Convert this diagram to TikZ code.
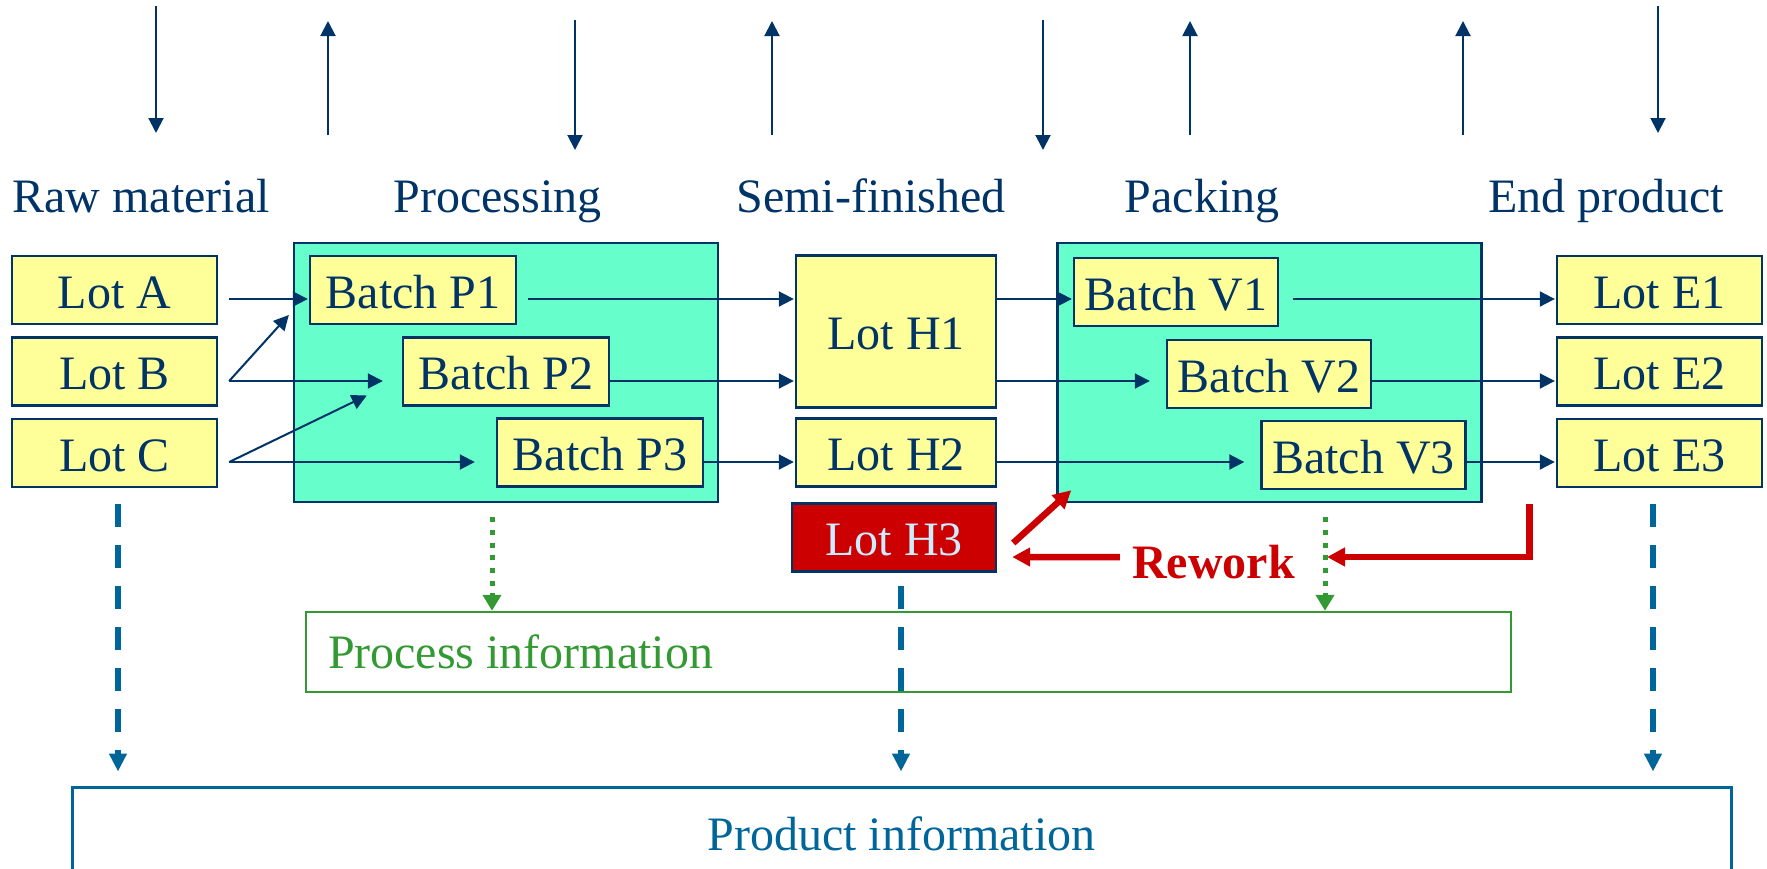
\documentclass[tikz,border=0pt]{standalone}
\usepackage{fontspec}
\setmainfont{Liberation Serif}
\usetikzlibrary{arrows.meta,calc}
\definecolor{navy}{HTML}{003366}
\definecolor{lotyellow}{HTML}{FFFF99}
\definecolor{groupcyan}{HTML}{66FFCC}
\definecolor{rwred}{HTML}{CC0000}
\definecolor{hthreetext}{HTML}{CCECFF}
\definecolor{procgreen}{HTML}{339933}
\definecolor{infoblue}{HTML}{006699}
\begin{document}
\begin{tikzpicture}[x=0.5pt,y=-0.5pt,
  font=\fontsize{24}{28}\selectfont,
  lotbox/.style={draw=navy, fill=lotyellow, line width=1.2pt, text=navy, inner sep=0pt, text height=18pt, text depth=0pt, minimum width=102.5pt, minimum height=34pt},
  groupbox/.style={draw=navy, fill=groupcyan, line width=1.2pt, inner sep=0pt, minimum width=212pt, minimum height=129.5pt},
  lbl/.style={text=navy, anchor=base, inner sep=0pt},
  flow/.style={draw=navy, line width=1pt, -{Triangle[length=7.5pt,width=7.5pt]}},
  rwarrow/.style={draw=rwred, line width=3.25pt, -{Triangle[length=9pt,width=9pt]}},
  infoarr/.style={draw=infoblue, line width=3pt, dash pattern=on 11.5pt off 9pt, -{Triangle[length=9pt,width=8.5pt]}},
  procarr/.style={draw=procgreen, line width=2.5pt, dash pattern=on 2.5pt off 3.85pt, -{Triangle[length=8pt,width=9pt]}}
]
\useasboundingbox (0,0) rectangle (1767,868);
\clip (0,0) rectangle (1767,868);

% column labels
\node[lbl] (lraw)  at (141,212)  {Raw material};
\node[lbl] (lproc) at (497.5,212) {Processing};
\node[lbl] (lsemi) at (871,212)  {Semi-finished};
\node[lbl] (lpack) at (1202,212) {Packing};
\node[lbl] (lend)  at (1606,212) {End product};

% top arrows
\coordinate (t1a) at (156,6);    \coordinate (t1b) at (156,133);
\coordinate (t2a) at (328,135);  \coordinate (t2b) at (328,21);
\coordinate (t3a) at (575,20);   \coordinate (t3b) at (575,150);
\coordinate (t4a) at (772,135);  \coordinate (t4b) at (772,21);
\coordinate (t5a) at (1043,20);  \coordinate (t5b) at (1043,150);
\coordinate (t6a) at (1190,135); \coordinate (t6b) at (1190,21);
\coordinate (t7a) at (1463,135); \coordinate (t7b) at (1463,21);
\coordinate (t8a) at (1658,6);   \coordinate (t8b) at (1658,133);
\foreach \i in {1,...,8} {\draw[flow] (t\i a) -- (t\i b);}

% group boxes
\node[groupbox] (procbox) at (506,372.5) {};
\node[groupbox] (packbox) at (1269.5,372.5) {};

% lots and batches
\node[lotbox] (lotA) at (114.5,290) {Lot A};
\node[lotbox] (lotB) at (114.5,371.5) {Lot B};
\node[lotbox] (lotC) at (114.5,453) {Lot C};
\node[lotbox, minimum width=103pt] (P1) at (413,290) {Batch P1};
\node[lotbox, minimum width=103pt] (P2) at (506,371.5) {Batch P2};
\node[lotbox, minimum width=103pt] (P3) at (600,452.5) {Batch P3};
\node[lotbox, minimum width=100pt, minimum height=76pt] (H1) at (896,331.5) {Lot H1};
\node[lotbox, minimum width=100pt] (H2) at (896,452.5) {Lot H2};
\node[lotbox, fill=rwred, text=hthreetext, minimum width=102pt] (H3) at (894,537.5) {Lot H3};
\node[lotbox, minimum width=102pt] (V1) at (1176,292) {Batch V1};
\node[lotbox, minimum width=102pt] (V2) at (1269,374) {Batch V2};
\node[lotbox, minimum width=102pt] (V3) at (1363.5,455) {Batch V3};
\node[lotbox] (E1) at (1659.5,290) {Lot E1};
\node[lotbox] (E2) at (1659.5,371.5) {Lot E2};
\node[lotbox] (E3) at (1659.5,453) {Lot E3};

% flow arrows
\draw[flow] ($(lotA.east)+(11,9)$) -- ($(P1.west)+(-1,9)$);
\draw[flow] ($(lotB.east)+(11,9.5)$) -- ($(P1.west)+(-20,25)$);
\draw[flow] ($(lotB.east)+(11,9.5)$) -- ($(P2.west)+(-19,9.5)$);
\draw[flow] ($(lotC.east)+(11,9)$) -- ($(P2.west)+(-35,24)$);
\draw[flow] ($(lotC.east)+(11,9)$) -- ($(P3.west)+(-21,9.5)$);
\draw[flow] ($(P1.east)+(11,9)$) -- ($(H1.west)+(-1,-32.5)$);
\draw[flow] ($(P2.east)+(0,9.5)$) -- ($(H1.west)+(-1,49.5)$);
\draw[flow] ($(P3.east)+(0,9.5)$) -- ($(H2.west)+(-1,9.5)$);
\draw[flow] ($(H1.east)+(0,-32.5)$) -- ($(V1.west)+(-1,7)$);
\draw[flow] ($(H1.east)+(0,49.5)$) -- ($(V2.west)+(-16,7)$);
\draw[flow] ($(H2.east)+(0,9.5)$) -- ($(V3.west)+(-16,7)$);
\draw[flow] ($(V1.east)+(14,7)$) -- ($(E1.west)+(-1,9)$);
\draw[flow] ($(V2.east)+(0,7)$) -- ($(E2.west)+(-1,9.5)$);
\draw[flow] ($(V3.east)+(0,7)$) -- ($(E3.west)+(-1,9)$);

% information boxes
\node[draw=procgreen, line width=1.2pt, text=procgreen, minimum width=602.5pt, minimum height=40pt, inner xsep=11pt, inner ysep=0pt] (procinfo) at (908.5,652) {\makebox[580.5pt][l]{Process information}};
\node[draw=infoblue, line width=1.5pt, text=infoblue, minimum width=829.5pt, minimum height=46.5pt, inner sep=0pt] (prodinfo) at (901.5,833.5) {Product information};

% rework
\node[anchor=base, text=rwred, font=\fontsize{24}{28}\selectfont\bfseries, inner sep=0pt] (rework) at (1213.5,578) {Rework};
\coordinate (rwtip) at ($(H3.east)+(15,19.5)$);
\coordinate (g1) at ($(procbox.south)+(-14,14)$);
\coordinate (g2) at ($(packbox.south)+(55.5,14)$);
\draw[rwarrow] ($(H3.east)+(16,5.5)$) -- ($(packbox.south west)+(15,-13)$);
\draw[rwarrow] ($(rework.west)+(-12,-4.5)$) -- (rwtip);
\draw[rwarrow, line join=miter] ($(packbox.south east)+(47,1)$) |- ($(g2 |- rwtip)+(2,0)$);

% process information arrows
\draw[procarr] (g1) -- (g1 |- procinfo.north);
\draw[procarr] (g2) -- (g2 |- procinfo.north);

% product information arrows
\coordinate (b1) at ($(lotC.south)+(3.5,16)$);
\coordinate (b2) at ($(H3.south)+(7,13.5)$);
\coordinate (b3) at ($(E3.south)+(-6.5,16)$);
\draw[infoarr, shorten >=7pt] (b1) -- (b1 |- prodinfo.north);
\draw[infoarr, shorten >=7pt] (b2) -- (b2 |- prodinfo.north);
\draw[infoarr, shorten >=7pt] (b3) -- (b3 |- prodinfo.north);
\end{tikzpicture}
\end{document}
